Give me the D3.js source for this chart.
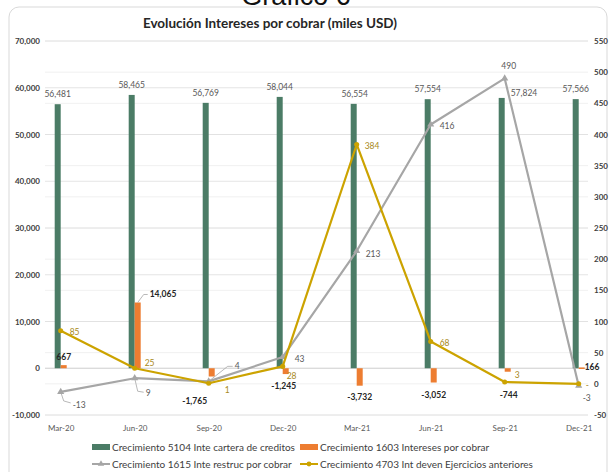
<!DOCTYPE html>
<html><head><meta charset="utf-8">
<script src="https://cdn.jsdelivr.net/npm/d3@7/dist/d3.min.js"></script>
<style>
body{margin:0;background:#fff;}
svg{display:block;font-family:Lato,"Open Sans",sans-serif;}
</style></head>
<body><svg id="c" width="613" height="472"></svg>
<script>
const categories = ["Mar-20","Jun-20","Sep-20","Dec-20","Mar-21","Jun-21","Sep-21","Dec-21"];
const cartera = [56481,58465,56769,58044,56554,57554,57824,57566];
const intereses = [667,14065,-1765,-1245,-3732,-3052,-744,166];
const restruc = [-13,9,4,43,213,416,490,-3];
const ejercicios = [85,25,1,28,384,68,3,0];
const leftTicks = [-10000,0,10000,20000,30000,40000,50000,60000,70000];
const rightTicks = [-50,0,50,100,150,200,250,300,350,400,450,500,550];
const seriesNames = ["Crecimiento 5104 Inte cartera de creditos","Crecimiento 1603 Intereses por cobrar","Crecimiento 1615 Inte restruc por cobrar","Crecimiento 4703 Int deven Ejercicios anteriores"];
const title = "Evolución Intereses por cobrar (miles USD)";

// label layout offsets [dx, dy, anchor] relative to the mark anchor
const cartOff = [[0,-7,"middle"],[0,-7,"middle"],[0,-7,"middle"],[0,-7,"middle"],[1,-7,"middle"],[0,-7,"middle"],[9,-2,"start"],[0,-7,"middle"]];
const intOff = [[0,-5,"middle"],[12,-5,"start"],[-17,27,"middle"],[-2,15,"middle"],[0,14,"middle"],[0,15,"middle"],[1,26,"middle"],[3,3,"start"]];
const resOff = [[12,16,"start"],[11,18,"start"],[26,-12,"start"],[12,5,"start"],[9,6,"start"],[9,4,"start"],[4,-9,"middle"],[8,15,"middle"]];
const ejeOff = [[9,4,"start"],[10,-2,"start"],[16,10,"start"],[4,13,"start"],[8,5,"start"],[9,5,"start"],[10,-4,"start"],[7,4,"start"]];

const COL = {green:"#4B7C66", orange:"#ED7D31", gray:"#A6A6A6", gold:"#CCA300", goldText:"#A8891A", text:"#595959"};

const loc = d3.formatLocale({decimal:".", thousands:",", grouping:[3], currency:["$",""], minus:"-"});
const fmt = loc.format(",");

const svg = d3.select("#c");

// cut-off page caption + chart frame
svg.append("text").attr("x",296).attr("y",5).attr("text-anchor","middle")
  .attr("font-family","Liberation Sans, Arial, sans-serif").attr("font-size",27).attr("fill","#111").text("Gráfico 6");
svg.append("rect").attr("x",9).attr("y",7).attr("width",598).attr("height",480).attr("rx",10)
  .attr("fill","#fff").attr("stroke","#d9d9d9").attr("stroke-width",1);

const x = d3.scalePoint().domain(categories).range([60.7,578.7]);
const yL = d3.scaleLinear().domain([-10000,70000]).range([415,41]);
const yR = d3.scaleLinear().domain([-50,550]).range([415,41]);
const gx0 = 45, gx1 = 588;

// gridlines
svg.append("g").selectAll("line").data(rightTicks).join("line")
  .attr("x1",gx0).attr("x2",gx1).attr("y1",d=>yR(d)).attr("y2",d=>yR(d))
  .attr("stroke","#ececec").attr("stroke-width",0.8);
svg.append("g").selectAll("line").data(leftTicks).join("line")
  .attr("x1",gx0).attr("x2",gx1).attr("y1",d=>yL(d)).attr("y2",d=>yL(d))
  .attr("stroke","#dedede").attr("stroke-width",0.8);

// axes
const axL = svg.append("g").attr("transform","translate(40,0)")
  .call(d3.axisLeft(yL).tickValues(leftTicks).tickSize(0).tickPadding(0).tickFormat(fmt));
const axR = svg.append("g").attr("transform","translate(594,0)")
  .call(d3.axisRight(yR).tickValues(rightTicks).tickSize(0).tickPadding(0).tickFormat(fmt));
const axX = svg.append("g").attr("transform","translate(0,415)")
  .call(d3.axisBottom(x).tickSize(0).tickPadding(10));
[axL,axR,axX].forEach(a=>{a.select(".domain").remove();
  a.selectAll("text").attr("font-family","Lato, sans-serif").attr("font-size",8).attr("fill",COL.text);});
axL.selectAll("text").attr("font-weight","bold").attr("fill","#404040");
axR.selectAll("text").attr("font-weight","bold").attr("fill","#404040");
svg.append("line").attr("x1",gx0).attr("x2",gx1).attr("y1",yL(0)).attr("y2",yL(0)).attr("stroke","#d0d0d0").attr("stroke-width",0.8);

const bw = 6;
// bars
svg.append("g").selectAll("rect").data(cartera).join("rect")
  .attr("x",(d,i)=>x(categories[i])-bw).attr("width",bw)
  .attr("y",d=>yL(Math.max(0,d))).attr("height",d=>Math.abs(yL(d)-yL(0)))
  .attr("fill",COL.green);
svg.append("g").selectAll("rect").data(intereses).join("rect")
  .attr("x",(d,i)=>x(categories[i])).attr("width",bw)
  .attr("y",d=>yL(Math.max(0,d))).attr("height",d=>Math.max(1.5,Math.abs(yL(d)-yL(0))))
  .attr("fill",COL.orange);

// lines
function drawLine(vals, color, symbol, size){
  const line = d3.line().x((d,i)=>x(categories[i])).y(d=>yR(d));
  svg.append("path").datum(vals).attr("d",line).attr("fill","none").attr("stroke",color).attr("stroke-width",2.2).attr("stroke-linejoin","round");
  svg.append("g").selectAll("path").data(vals).join("path")
    .attr("transform",(d,i)=>`translate(${x(categories[i])},${yR(d)})`)
    .attr("d",d3.symbol().type(symbol).size(size)).attr("fill",color);
}
drawLine(restruc, COL.gray, d3.symbolTriangle, 22);
drawLine(ejercicios, COL.gold, d3.symbolCircle, 20);

// leader lines (gray thin)
const leaders = [
  {p:[x(categories[0]),yR(restruc[0])], path:[[0,0],[3,9],[10,11]]},
  {p:[x(categories[1]),yR(restruc[1])], path:[[0,0],[3,13],[9,14]]},
  {p:[x(categories[2]),yR(restruc[2])], path:[[0,0],[19,-15],[24,-15]]},
  {p:[x(categories[1])+bw/2,yL(intereses[1])], path:[[0,0],[6,-8],[10,-8]]}
];
leaders.forEach(l=>{
  svg.append("path").attr("d",d3.line()(l.path.map(q=>[l.p[0]+q[0],l.p[1]+q[1]])))
    .attr("fill","none").attr("stroke","#a6a6a6").attr("stroke-width",0.8);
});

// labels
function labels(vals, off, px, py, fill, weight, fmtFn){
  svg.append("g").selectAll("text").data(vals).join("text")
    .attr("x",(d,i)=>px(d,i)+off[i][0]).attr("y",(d,i)=>py(d,i)+off[i][1])
    .attr("text-anchor",(d,i)=>off[i][2]).attr("font-size",8.5).attr("font-weight",weight)
    .attr("fill",fill).text(fmtFn);
}
labels(cartera, cartOff, (d,i)=>x(categories[i])-bw/2, d=>yL(d), COL.text, "normal", d=>fmt(d));
labels(intereses, intOff, (d,i)=>x(categories[i])+bw/2, d=>yL(Math.max(0,d)) + (d<0?Math.abs(yL(d)-yL(0)):0), "#262626", "bold", d=>fmt(d));
labels(restruc, resOff, (d,i)=>x(categories[i]), d=>yR(d), COL.text, "normal", d=>fmt(d));
labels(ejercicios, ejeOff, (d,i)=>x(categories[i]), d=>yR(d), COL.goldText, "normal", d=>d===0?"-":fmt(d));

// title
svg.append("text").attr("x",270).attr("y",28).attr("text-anchor","middle")
  .attr("font-size",13.5).attr("font-weight","bold").attr("fill","#262626").text(title);

// legend
const lg = svg.append("g").attr("font-size",10).attr("fill","#404040");
const items = [
  {x:92,y:447,type:"rect",color:COL.green},
  {x:300,y:447,type:"rect",color:COL.orange},
  {x:92,y:464,type:"line",color:COL.gray,sym:d3.symbolTriangle},
  {x:300,y:464,type:"line",color:COL.gold,sym:d3.symbolCircle}
];
items.forEach((it,i)=>{
  if(it.type==="rect"){
    lg.append("rect").attr("x",it.x).attr("y",it.y-3).attr("width",18).attr("height",6).attr("fill",it.color);
  } else {
    lg.append("line").attr("x1",it.x).attr("x2",it.x+18).attr("y1",it.y).attr("y2",it.y).attr("stroke",it.color).attr("stroke-width",2);
    lg.append("path").attr("transform",`translate(${it.x+9},${it.y})`).attr("d",d3.symbol().type(it.sym).size(18)).attr("fill",it.color);
  }
  lg.append("text").attr("x",it.x+20).attr("y",it.y+3.5).attr("fill","#404040").text(seriesNames[i]);
});
</script></body></html>
